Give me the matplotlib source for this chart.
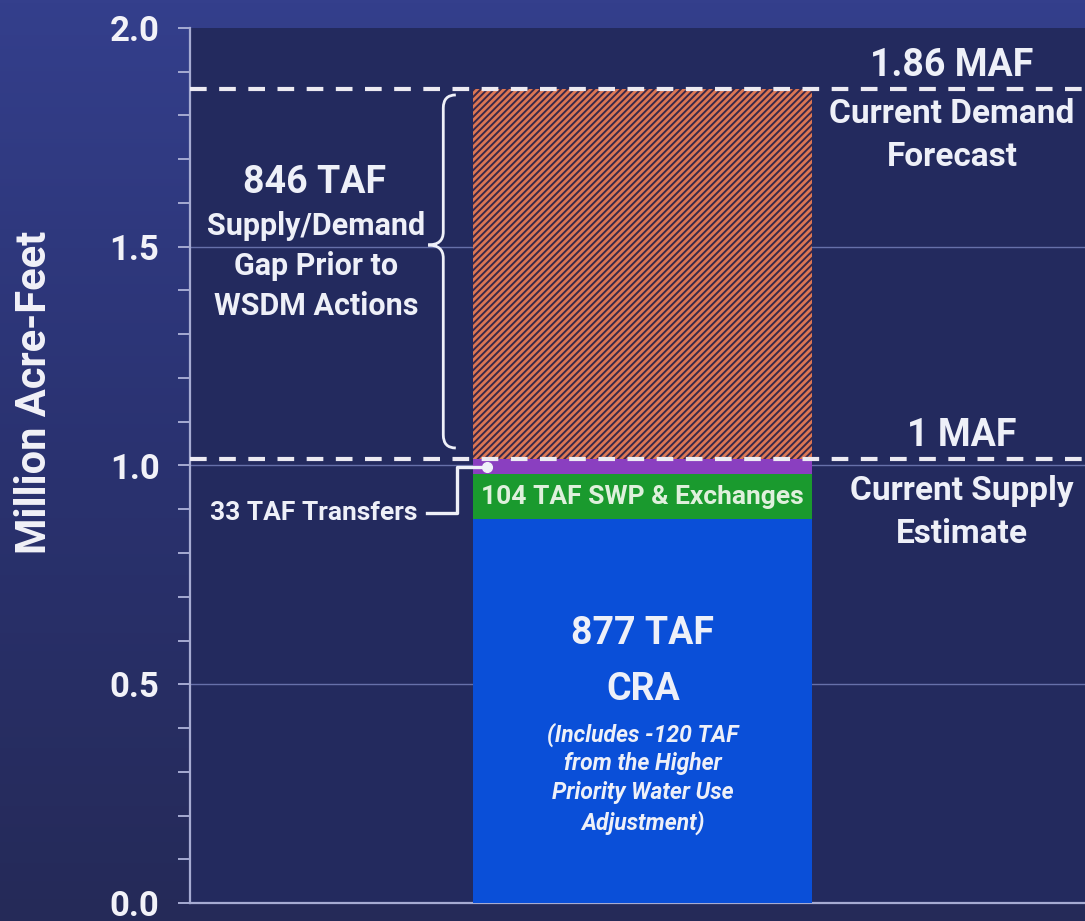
import numpy as np
import matplotlib.pyplot as plt
from matplotlib.path import Path
from matplotlib.patches import PathPatch
from matplotlib.colors import LinearSegmentedColormap

# stacked supply pieces (million acre-feet)
cra = 0.877
swp = 0.104
transfers = 0.033
gap = 0.846
demand = 1.86
supply = cra + swp + transfers

yticks = [0.0, 0.5, 1.0, 1.5, 2.0]
ytick_labels = ["0.0", "0.5", "1.0", "1.5", "2.0"]

plt.rcParams['font.family'] = ['Roboto', 'DejaVu Sans']
plt.rcParams['hatch.linewidth'] = 2.0

fig = plt.figure(figsize=(10.85, 9.21), dpi=100)

# background gradient
bg = fig.add_axes([0, 0, 1, 1])
grad = np.linspace(0, 1, 256).reshape(-1, 1)
cmap = LinearSegmentedColormap.from_list('bg', ['#343f8c', '#2a3270', '#252a58'])
bg.imshow(grad, aspect='auto', cmap=cmap, extent=[0, 1, 0, 1])
bg.axis('off')

ax = fig.add_axes([190/1085, 1 - 903/921, 895/1085, (903 - 28)/921])
ax.set_facecolor('#232a5e')
ax.set_xlim(0, 1)
ax.set_ylim(0, 2.0)

x0 = 0.506
w = 0.379
ax.bar(x0, cra, w, color='#0a4fd8', linewidth=0, zorder=3)
ax.bar(x0, swp, w, bottom=cra, color='#1a9a2e', linewidth=0, zorder=3)
ax.bar(x0, transfers, w, bottom=cra + swp, color='#8a3fc0', linewidth=0, zorder=3)
ax.bar(x0, gap, w, bottom=supply, facecolor='#3a2848', edgecolor='#dc7754',
       hatch='/////', linewidth=0, zorder=3)

# grid + dashed lines
for g in [0.5, 1.0, 1.5]:
    ax.axhline(g, color='#6670aa', lw=1, zorder=1)
for v in [demand, supply]:
    ax.axhline(v, color='#eceaf2', lw=3, dashes=(4, 3), zorder=5, clip_on=False)

for s in ['top', 'right']:
    ax.spines[s].set_visible(False)
for s in ['left', 'bottom']:
    ax.spines[s].set_color('#a6abd2')
    ax.spines[s].set_linewidth(1.6)
ax.set_xticks([])
ax.set_yticks(yticks)
ax.set_yticklabels(ytick_labels, fontsize=25, fontweight='bold', color='#f2f2f8')
ax.set_yticks(np.arange(0, 2.01, 0.1), minor=True)
ax.tick_params(axis='y', which='both', color='#a6abd2', width=1.4, length=9, pad=13)

fig.text(35/1085, 1 - 392/921, "Million Acre-Feet", rotation=90, ha='center', va='center',
         fontsize=30, fontweight='bold', color='#f2f2f8')

white = '#eef0f8'
# gap text
ax.text(0.139, 1.648, "846 TAF", ha='center', va='center', fontsize=27, fontweight='bold', color=white)
ax.text(0.141, 1.456, "Supply/Demand\nGap Prior to\nWSDM Actions", ha='center', va='center',
        fontsize=22, fontweight='bold', color=white, linespacing=1.42)

# brace
xb, xe, xt = 0.283, 0.297, 0.266
ytop, ybot, ymid = 1.847, 1.04, 1.504
verts = [(xe, ytop), (xb, ytop), (xb, ytop - 0.03), (xb, ytop - 0.03),
         (xb, ymid + 0.03), (xb, ymid + 0.03), (xb, ymid), (xt, ymid),
         (xb, ymid), (xb, ymid - 0.03), (xb, ymid - 0.03),
         (xb, ybot + 0.03), (xb, ybot + 0.03), (xb, ybot), (xe, ybot)]
codes = [Path.MOVETO, Path.CURVE3, Path.CURVE3, Path.LINETO,
         Path.LINETO, Path.LINETO, Path.CURVE3, Path.CURVE3,
         Path.CURVE3, Path.CURVE3, Path.LINETO,
         Path.LINETO, Path.LINETO, Path.CURVE3, Path.CURVE3]
ax.add_patch(PathPatch(Path(verts, codes), fill=False, edgecolor=white, lw=2, zorder=6))

# transfers connector
ax.plot([0.265, 0.298, 0.298, 0.332], [0.891, 0.891, 0.9966, 0.9966], color=white, lw=2.4,
        zorder=6, solid_joinstyle='round')
ax.plot([0.332], [0.9966], 'o', color=white, ms=7, zorder=7)
ax.text(0.254, 0.891, "33 TAF Transfers", ha='right', va='center', fontsize=19,
        fontweight='bold', color=white)

ax.text(x0, cra + swp / 2, "104 TAF SWP & Exchanges", ha='center', va='center',
        fontsize=19, fontweight='bold', color='#dff0dc', zorder=6)

ax.text(x0, 0.615, "877 TAF", ha='center', va='center', fontsize=27, fontweight='bold', color=white, zorder=6)
ax.text(x0, 0.487, "CRA", ha='center', va='center', fontsize=27, fontweight='bold', color=white, zorder=6)
ax.text(x0, 0.285, "(Includes -120 TAF\nfrom the Higher\nPriority Water Use\nAdjustment)",
        ha='center', va='center', fontsize=16.5, fontweight='bold', fontstyle='italic',
        color=white, linespacing=1.32, zorder=6)

# right labels
xr_top = (952 - 190) / 895
xr_bot = (962 - 190) / 895
ax.text(xr_top, demand + 0.012, "1.86 MAF", ha='center', va='bottom', fontsize=27, fontweight='bold', color=white)
ax.text(xr_top, demand - 0.02, "Current Demand\nForecast", ha='center', va='top', fontsize=24,
        fontweight='bold', color=white, linespacing=1.45)
ax.text(xr_bot, supply + 0.012, "1 MAF", ha='center', va='bottom', fontsize=27, fontweight='bold', color=white)
ax.text(xr_bot, supply - 0.035, "Current Supply\nEstimate", ha='center', va='top', fontsize=24,
        fontweight='bold', color=white, linespacing=1.45)

fig.savefig('out.png', dpi=100)
